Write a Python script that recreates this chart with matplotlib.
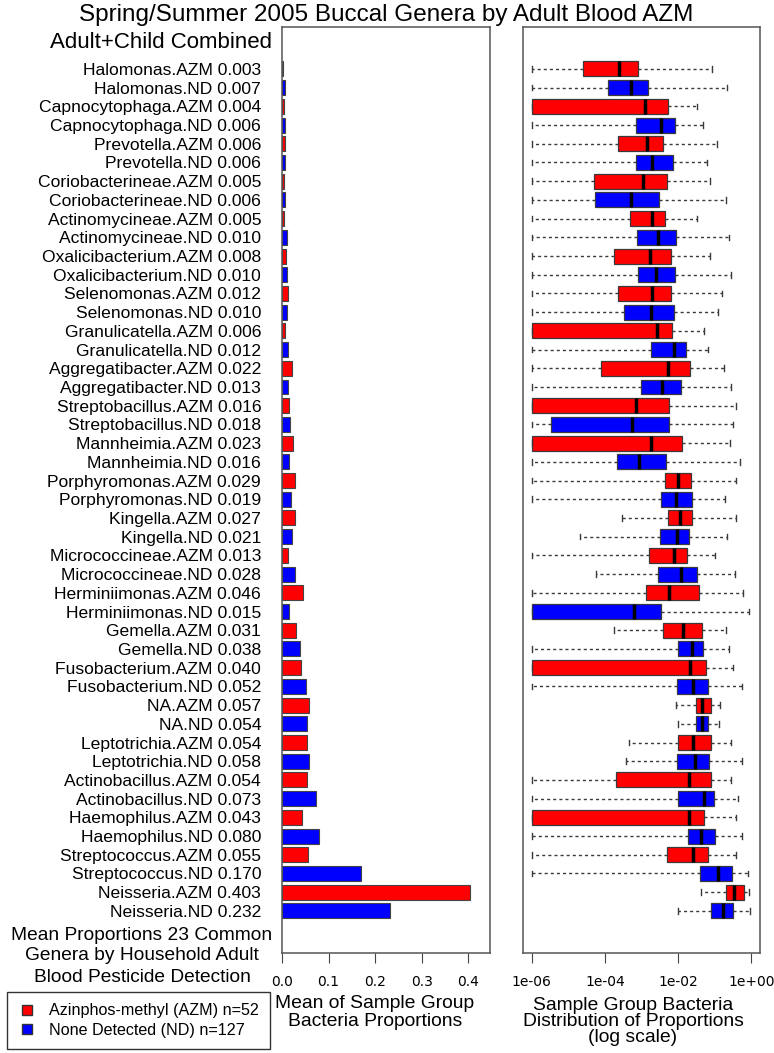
import numpy as np
import matplotlib
matplotlib.use("Agg")
import matplotlib.pyplot as plt
from matplotlib.lines import Line2D

genera = ["Halomonas", "Capnocytophaga", "Prevotella", "Coriobacterineae",
          "Actinomycineae", "Oxalicibacterium", "Selenomonas", "Granulicatella",
          "Aggregatibacter", "Streptobacillus", "Mannheimia", "Porphyromonas",
          "Kingella", "Micrococcineae", "Herminiimonas", "Gemella",
          "Fusobacterium", "NA", "Leptotrichia", "Actinobacillus",
          "Haemophilus", "Streptococcus", "Neisseria"]

# group means of the proportions
azm_mean = [0.003, 0.004, 0.006, 0.005, 0.005, 0.008, 0.012, 0.006, 0.022, 0.016,
            0.023, 0.029, 0.027, 0.013, 0.046, 0.031, 0.040, 0.057, 0.054, 0.054,
            0.043, 0.055, 0.403]
nd_mean = [0.007, 0.006, 0.006, 0.006, 0.010, 0.010, 0.010, 0.012, 0.013, 0.018,
           0.016, 0.019, 0.021, 0.028, 0.015, 0.038, 0.052, 0.054, 0.058, 0.073,
           0.080, 0.170, 0.232]

# boxplot stats, log10 of proportion (zeros sit at 1e-06)
azm_lo = [-6, -6, -6, -6, -6, -6, -6, -6, -6, -6, -6, -6, -3.54, -6, -6, -3.75,
          -6, -2.06, -3.34, -6, -6, -6, -1.38]
azm_q1 = [-4.59, -6, -3.65, -4.30, -3.32, -3.76, -3.63, -6, -4.12, -6, -6, -2.36,
          -2.27, -2.79, -2.88, -2.41, -6, -1.51, -2.01, -3.71, -6, -2.30, -0.68]
azm_med = [-3.62, -2.90, -2.86, -2.96, -2.72, -2.77, -2.72, -2.58, -2.28, -3.16,
           -2.75, -2.01, -1.95, -2.10, -2.26, -1.86, -1.67, -1.34, -1.60, -1.70,
           -1.69, -1.59, -0.48]
azm_q3 = [-3.10, -2.28, -2.41, -2.31, -2.36, -2.19, -2.19, -2.16, -1.68, -2.26,
          -1.90, -1.65, -1.62, -1.76, -1.44, -1.35, -1.23, -1.10, -1.10, -1.10,
          -1.30, -1.19, -0.21]
azm_hi = [-1.06, -1.47, -0.94, -1.13, -1.47, -1.12, -0.80, -1.28, -0.75, -0.42,
          -0.58, -0.42, -0.42, -0.99, -0.22, -0.69, -0.51, -0.85, -0.54, -0.54,
          -0.42, -0.42, -0.05]

nd_lo = [-6, -6, -6, -6, -6, -6, -6, -6, -6, -6, -6, -6, -4.67, -4.25, -6, -6,
         -6, -2.01, -3.43, -6, -6, -6, -2.01]
nd_q1 = [-3.91, -3.16, -3.14, -4.28, -3.11, -3.10, -3.48, -2.75, -3.02, -5.47,
         -3.66, -2.47, -2.49, -2.56, -6, -2.01, -2.03, -1.51, -2.03, -2.01,
         -1.74, -1.39, -1.10]
nd_med = [-3.28, -2.47, -2.70, -3.30, -2.56, -2.61, -2.73, -2.12, -2.45, -3.27,
          -3.06, -2.07, -2.03, -1.93, -3.21, -1.61, -1.59, -1.35, -1.53, -1.30,
          -1.38, -0.91, -0.77]
nd_q3 = [-2.81, -2.08, -2.14, -2.53, -2.05, -2.09, -2.10, -1.78, -1.93, -2.24,
         -2.34, -1.61, -1.71, -1.49, -2.48, -1.32, -1.19, -1.18, -1.16, -1.01,
         -0.98, -0.53, -0.49]
nd_hi = [-0.65, -1.33, -1.22, -0.68, -0.60, -0.56, -0.90, -1.18, -0.56, -0.51,
         -0.32, -0.73, -0.65, -0.45, -0.05, -0.60, -0.24, -0.89, -0.25, -0.36,
         -0.24, -0.09, -0.04]

groups = [("AZM", "Azinphos-methyl (AZM) n=52", "#ff0000",
           azm_mean, azm_lo, azm_q1, azm_med, azm_q3, azm_hi),
          ("ND", "None Detected (ND) n=127", "#0000ff",
           nd_mean, nd_lo, nd_q1, nd_med, nd_q3, nd_hi)]

plt.rcParams['font.family'] = ['Liberation Sans', 'DejaVu Sans']

W, H = 774, 1053
fig = plt.figure(figsize=(W / 100, H / 100), dpi=100)


def rect(x0, x1, y0, y1):
    return [x0 / W, 1 - y1 / H, (x1 - x0) / W, (y1 - y0) / H]


def fx(x):
    return x / W


def fy(y):
    return 1 - y / H


ax1 = fig.add_axes(rect(282, 490, 27, 953))
ax2 = fig.add_axes(rect(523, 760, 27, 953))

labels, means, colors, stats = [], [], [], []
for i, g in enumerate(genera):
    for tag, _, col, mean, lo, q1, med, q3, hi in groups:
        labels.append("%s.%s %.3f" % (g, tag, mean[i]))
        means.append(mean[i])
        colors.append(col)
        stats.append(dict(whislo=10 ** lo[i], q1=10 ** q1[i], med=10 ** med[i],
                          q3=10 ** q3[i], whishi=10 ** hi[i]))
rows = np.arange(len(labels))

# mean bars
ax1.barh(rows, means, height=0.8, color=colors, edgecolor="#444444", linewidth=0.8)
ax1.set_xlim(0, 0.447)
ax1.set_xticks([0, 0.1, 0.2, 0.3, 0.4], ["0.0", "0.1", "0.2", "0.3", "0.4"])
ax1.set_yticks(rows, labels)
ax1.tick_params(axis="y", length=0, pad=15, labelsize=12.6)

# log-scale boxplots
bp = ax2.bxp(stats, positions=rows, widths=0.8, orientation="horizontal",
             patch_artist=True, showfliers=False, manage_ticks=False, capwidths=0.3,
             boxprops=dict(edgecolor="#3a3a3a", linewidth=0.9),
             whiskerprops=dict(color="#3a3a3a", linewidth=1.0, linestyle=(0, (2.2, 2.2))),
             capprops=dict(color="#3a3a3a", linewidth=1.0),
             medianprops=dict(color="black", linewidth=2.5))
for patch, col in zip(bp["boxes"], colors):
    patch.set_facecolor(col)
ax2.set_xscale("log")
ax2.set_xlim(10 ** -6.24, 10 ** 0.24)
ax2.set_xticks([1e-6, 1e-4, 1e-2, 1], ["1e-06", "1e-04", "1e-02", "1e+00"])
ax2.minorticks_off()
ax2.set_yticks([])

for ax in (ax1, ax2):
    ax.set_ylim(47.25, -2.24)
    ax.tick_params(axis="x", length=7, pad=9, labelsize=10, color="#444444",
                   labelfontfamily="DejaVu Sans")
    for sp in ax.spines.values():
        sp.set_color("#555555")
        sp.set_linewidth(1.1)

fig.text(fx(386), fy(15), "Spring/Summer 2005 Buccal Genera by Adult Blood AZM",
         ha="center", va="center", fontsize=17.5)
fig.text(fx(272), fy(42), "Adult+Child Combined", ha="right", va="center", fontsize=16)

for y, s in [(935, "Mean Proportions 23 Common"), (956, "Genera by Household Adult"),
             (977, "Blood Pesticide Detection")]:
    fig.text(fx(142), fy(y), s, ha="center", va="center", fontsize=13.8)

for y, s in [(1003, "Mean of Sample Group"), (1022, "Bacteria Proportions")]:
    fig.text(fx(375), fy(y), s, ha="center", va="center", fontsize=13.9)

for y, s in [(1005, "Sample Group Bacteria"), (1022, "Distribution of Proportions"),
             (1038, "(log scale)")]:
    fig.text(fx(633), fy(y), s, ha="center", va="center", fontsize=13.9)

handles = [Line2D([], [], marker="s", linestyle="none", markersize=7,
                  markerfacecolor=g[2], markeredgecolor="#333333") for g in groups]
leg = fig.legend(handles, [g[1] for g in groups], loc="upper left",
                 bbox_to_anchor=(fx(7), fy(992)), borderaxespad=0, fontsize=11.6,
                 fancybox=False, edgecolor="#333333", framealpha=1,
                 handletextpad=0.8, labelspacing=0.3, borderpad=0.7,
                 handlelength=1.1)
leg.get_frame().set_linewidth(1.0)

fig.savefig("out.png", dpi=100, facecolor="white")
